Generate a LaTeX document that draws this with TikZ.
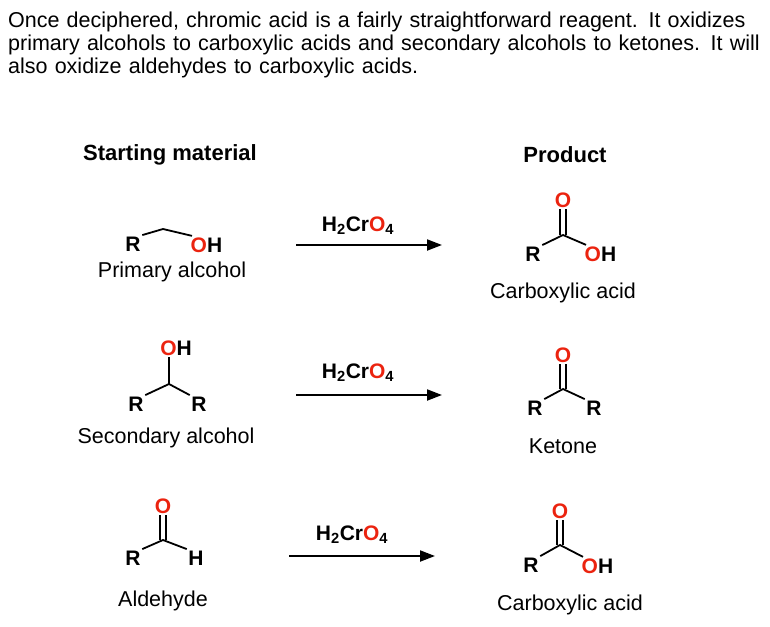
\documentclass[tikz,border=0pt]{standalone}
\usepackage{fontspec}
\setmainfont{Liberation Sans}
\usetikzlibrary{arrows.meta}
\definecolor{ored}{RGB}{235,35,15}
\begin{document}
\begin{tikzpicture}[x=1pt,y=-1pt,
  txt/.style={font=\fontsize{21.5}{23}\selectfont,inner sep=0pt},
  atom/.style={font=\fontsize{21}{23}\selectfont\bfseries,inner sep=1.5pt},
  hdr/.style={font=\fontsize{22}{24}\selectfont\bfseries,inner sep=0pt},
  bond/.style={line width=1.8pt},
  rx/.style={line width=2pt,-{Triangle[length=15pt,width=11pt]}},
  reag/.style={font=\fontsize{21}{23}\selectfont\bfseries,inner sep=0pt}]
\useasboundingbox (0,0) rectangle (770,626);
\node[txt,anchor=north west,align=left,text width=762pt] (para) at (8,12)
 {Once deciphered, chromic acid is a fairly straightforward reagent. It oxidizes primary alcohols to carboxylic acids and secondary alcohols to ketones. It will also oxidize aldehydes to carboxylic acids.};
\node[hdr] (h1) at (170,155) {Starting material};
\node[hdr] (h2) at (565,155) {Product};
% row 1 primary alcohol
\node[atom] (r1) at (133,244) {R};
\coordinate (c1) at (163,229);
\node[atom,anchor=west] (oh1) at (189,245) {\textcolor{ored}{O}H};
\draw[bond] (r1.north east) -- (c1) -- ([xshift=3pt]oh1.north west);
\node[txt] (l1) at (172,272) {Primary alcohol};
% arrow 1
\coordinate (a1s) at (296,245); \coordinate (a1e) at (442,245);
\draw[rx] (a1s) -- (a1e);
\node[reag] (g1) at (358,226) {H\textsubscript{2}Cr\textcolor{ored}{O}\textsubscript{4}};
% product 1
\node[atom,text=ored] (po1) at (563,200) {O};
\coordinate (pc1) at (563,235);
\node[atom] (pr1) at (533,254) {R};
\node[atom,anchor=west] (poh1) at (583,254) {\textcolor{ored}{O}H};
\draw[bond] ([xshift=-3pt]po1.south) -- ([xshift=-3pt]pc1);
\draw[bond] ([xshift=3pt]po1.south) -- ([xshift=3pt]pc1);
\draw[bond] (pr1.north east) -- (pc1) -- ([xshift=3pt]poh1.north west);
\node[txt] (pl1) at (563,293) {Carboxylic acid};
% row 2 secondary alcohol
\node[atom] (oh2) at (176,348) {\textcolor{ored}{O}H};
\coordinate (c2) at (169,384);
\node[atom] (r2a) at (136,404) {R};
\node[atom] (r2b) at (199,404) {R};
\draw[bond] ([xshift=-7pt]oh2.south) -- (c2);
\draw[bond] (r2a.north east) -- (c2) -- (r2b.north west);
\node[txt] (l2) at (166,438) {Secondary alcohol};
\coordinate (a2s) at (296,395); \coordinate (a2e) at (442,395);
\draw[rx] (a2s) -- (a2e);
\node[reag] (g2) at (358,373) {H\textsubscript{2}Cr\textcolor{ored}{O}\textsubscript{4}};
\node[atom,text=ored] (po2) at (563,355) {O};
\coordinate (pc2) at (563,389);
\node[atom] (pr2a) at (535,408) {R};
\node[atom] (pr2b) at (594,408) {R};
\draw[bond] ([xshift=-3pt]po2.south) -- ([xshift=-3pt]pc2);
\draw[bond] ([xshift=3pt]po2.south) -- ([xshift=3pt]pc2);
\draw[bond] (pr2a.north east) -- (pc2) -- (pr2b.north west);
\node[txt] (pl2) at (563,446) {Ketone};
% row 3 aldehyde
\node[atom,text=ored] (o3) at (163,506) {O};
\coordinate (c3) at (163,540);
\node[atom] (r3) at (133,558) {R};
\node[atom] (h3) at (196,558) {H};
\draw[bond] ([xshift=-3pt]o3.south) -- ([xshift=-3pt]c3);
\draw[bond] ([xshift=3pt]o3.south) -- ([xshift=3pt]c3);
\draw[bond] (r3.north east) -- (c3) -- (h3.north west);
\node[txt] (l3) at (163,601) {Aldehyde};
\coordinate (a3s) at (289,556); \coordinate (a3e) at (435,556);
\draw[rx] (a3s) -- (a3e);
\node[reag] (g3) at (352,535) {H\textsubscript{2}Cr\textcolor{ored}{O}\textsubscript{4}};
\node[atom,text=ored] (po3) at (560,511) {O};
\coordinate (pc3) at (560,545);
\node[atom] (pr3) at (531,565) {R};
\node[atom,anchor=west] (poh3) at (580,566) {\textcolor{ored}{O}H};
\draw[bond] ([xshift=-3pt]po3.south) -- ([xshift=-3pt]pc3);
\draw[bond] ([xshift=3pt]po3.south) -- ([xshift=3pt]pc3);
\draw[bond] (pr3.north east) -- (pc3) -- ([xshift=3pt]poh3.north west);
\node[txt] (pl3) at (570,605) {Carboxylic acid};
\end{tikzpicture}
\end{document}
